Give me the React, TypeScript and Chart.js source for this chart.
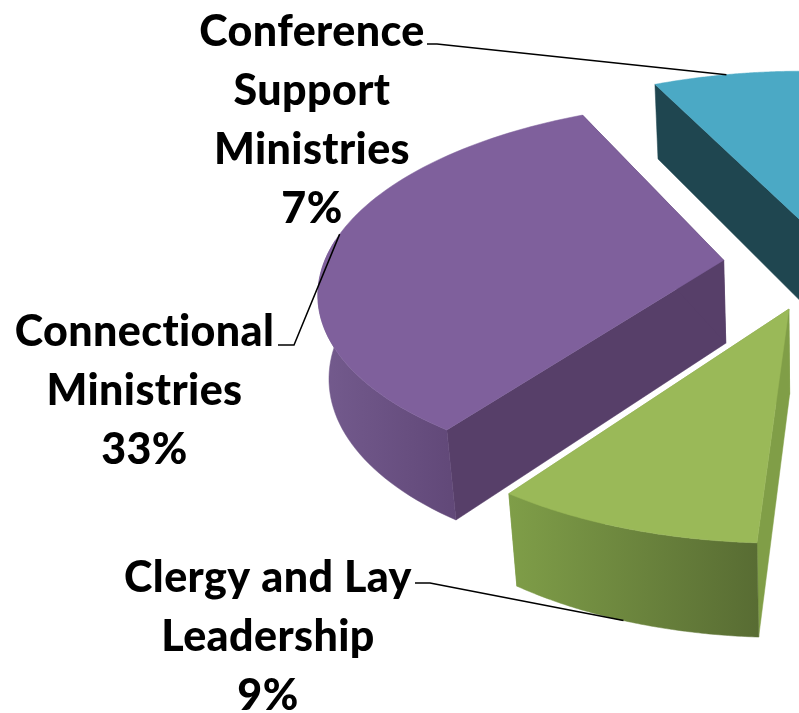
import React, { useEffect, useRef } from "react";
import { Chart, registerables } from "chart.js";

Chart.register(...registerables);

// ---- data (the 51% share lies beyond the crop) ----
const categories = ["Other Ministries", "Clergy and Lay Leadership", "Connectional Ministries", "Conference Support Ministries"];
const shares = [51, 9, 33, 7];
const pctLabels = ["51%", "9%", "33%", "7%"];
const labelLines = [
  ["Other Ministries"],
  ["Clergy and Lay", "Leadership"],
  ["Connectional", "Ministries"],
  ["Conference", "Support", "Ministries"],
];

// ---- style ----
const topColors = ["#c0504d", "#9ab958", "#7f609c", "#4ba9c5"];
const cutColors = ["#8c3a38", "#809e47", "#573f69", "#1f4650"];
const wallLeft = ["#8c3a38", "#7f9e48", "#745b8e", "#2f6a7a"];
const wallRight = ["#8c3a38", "#586c33", "#614878", "#2f6a7a"];

// ---- camera ----
const cam = { cx: 823, cy: 264, k: 0.15, q: 0.46, H: 85, m: 0.022 };
const RADIUS = 400;
const EXPLODE = 100;
const ROTATION = -0.6;

// ---- label layout ----
const labelPos = [
  { x: 1000, y: 300 },
  { x: 268, y: 578 },
  { x: 144.5, y: 332 },
  { x: 312, y: 32 },
];
const LINE_STEP = 59;
const leaderStart = [
  null,
  [[415, 583], [430, 583]],
  [[278, 345], [294, 345]],
  [[427, 44], [437, 44]],
];
// where on the slice's arc (0..1 from start angle) the leader ends, and on which rim level
const leaderEnd = [null, { t: 0.52, z: 1 }, { t: 0.53, z: 0 }, { t: 0.5, z: 0 }];

function project(X: number, Y: number, z: number, S: number) {
  // X, Y in radius units on the pie plane, z = 0 top rim, 1 bottom rim
  const w = 1 - cam.k * Y + cam.m * z;
  return [cam.cx + (S * X) / w, cam.cy + (S * cam.q * Y + cam.H * z) / w];
}

function poly(ctx: CanvasRenderingContext2D, pts: number[][], fill: string | CanvasGradient) {
  ctx.beginPath();
  pts.forEach((p, i) => (i ? ctx.lineTo(p[0], p[1]) : ctx.moveTo(p[0], p[1])));
  ctx.closePath();
  ctx.fillStyle = fill;
  ctx.fill();
  ctx.strokeStyle = fill;
  ctx.lineWidth = 0.5;
  ctx.stroke();
}

const pie3d = {
  id: "pie3d",
  beforeDatasetsDraw(chart: any) {
    const ctx: CanvasRenderingContext2D = chart.ctx;
    const arcs = chart.getDatasetMeta(0).data;
    const geom = arcs.map((el: any, i: number) => {
      const S = el.outerRadius;
      const mid = (el.startAngle + el.endAngle) / 2;
      const d = (el.options.offset || 0) / S;
      const ox = Math.cos(mid) * d;
      const oy = Math.sin(mid) * d;
      const at = (t: number, z: number) => {
        const a = el.startAngle + (el.endAngle - el.startAngle) * t;
        return project(ox + Math.cos(a), oy + Math.sin(a), z, S);
      };
      const n = 80;
      const ts = Array.from({ length: n + 1 }, (_, j) => j / n);
      // the part of the rim that faces the viewer
      const front = ts.filter((t) => Math.sin(el.startAngle + (el.endAngle - el.startAngle) * t) > -0.12);
      return { i, oy, S, ox, at, ts, front, apex: (z: number) => project(ox, oy, z, S), el };
    });
    [...geom]
      .sort((a: any, b: any) => a.oy - b.oy)
      .forEach((g: any) => {
        const i = g.i;
        const top = g.ts.map((t: number) => g.at(t, 0));
        const bot = g.ts.map((t: number) => g.at(t, 1));
        const a0 = g.apex(0);
        const a1 = g.apex(1);
        // radial cut faces
        poly(ctx, [a0, top[0], bot[0], a1], cutColors[i]);
        poly(ctx, [a0, top[top.length - 1], bot[bot.length - 1], a1], cutColors[i]);
        // round outer wall
        if (g.front.length > 1) {
          const ft = g.front.map((t: number) => g.at(t, 0));
          const fb = g.front.map((t: number) => g.at(t, 1));
          const xs = ft.concat(fb).map((p: number[]) => p[0]);
          const grad = ctx.createLinearGradient(Math.min(...xs), 0, Math.max(...xs), 0);
          grad.addColorStop(0, wallLeft[i]);
          grad.addColorStop(1, wallRight[i]);
          poly(ctx, ft.concat([...fb].reverse()), grad);
        }
        // top face
        poly(ctx, [a0, ...top], g.el.options.backgroundColor);
      });

    // leader lines
    ctx.strokeStyle = "#000";
    ctx.lineWidth = 1.5;
    geom.forEach((g: any) => {
      const s = leaderStart[g.i];
      const e = leaderEnd[g.i];
      if (!s || !e) return;
      const end = g.at(e.t, e.z);
      ctx.beginPath();
      ctx.moveTo(s[0][0], s[0][1]);
      ctx.lineTo(s[1][0], s[1][1]);
      ctx.lineTo(end[0], end[1]);
      ctx.stroke();
    });

    // labels
    ctx.fillStyle = "#000";
    ctx.font = "900 43px Lato, Carlito, sans-serif";
    (ctx as any).letterSpacing = "0.4px";
    ctx.textAlign = "center";
    ctx.textBaseline = "middle";
    categories.forEach((_, i) => {
      const lines = [...labelLines[i], pctLabels[i]];
      lines.forEach((t, j) => ctx.fillText(t, labelPos[i].x, labelPos[i].y + j * LINE_STEP));
    });
    return false;
  },
};

export default function App() {
  const ref = useRef<HTMLCanvasElement>(null);
  useEffect(() => {
    const chart = new Chart(ref.current!, {
      type: "pie",
      data: {
        labels: categories,
        datasets: [
          {
            data: shares,
            backgroundColor: topColors,
            offset: EXPLODE,
            borderWidth: 0,
            radius: RADIUS,
          } as any,
        ],
      },
      options: {
        animation: false,
        responsive: false,
        rotation: ROTATION,
        plugins: { legend: { display: false }, tooltip: { enabled: false } },
      },
      plugins: [pie3d as any],
    });
    return () => chart.destroy();
  }, []);
  return (
    <div style={{ position: "fixed", left: 0, top: 0, width: 799, height: 713, overflow: "hidden", background: "#fff" }}>
      <canvas ref={ref} width={799} height={713} style={{ display: "block" }} />
    </div>
  );
}
